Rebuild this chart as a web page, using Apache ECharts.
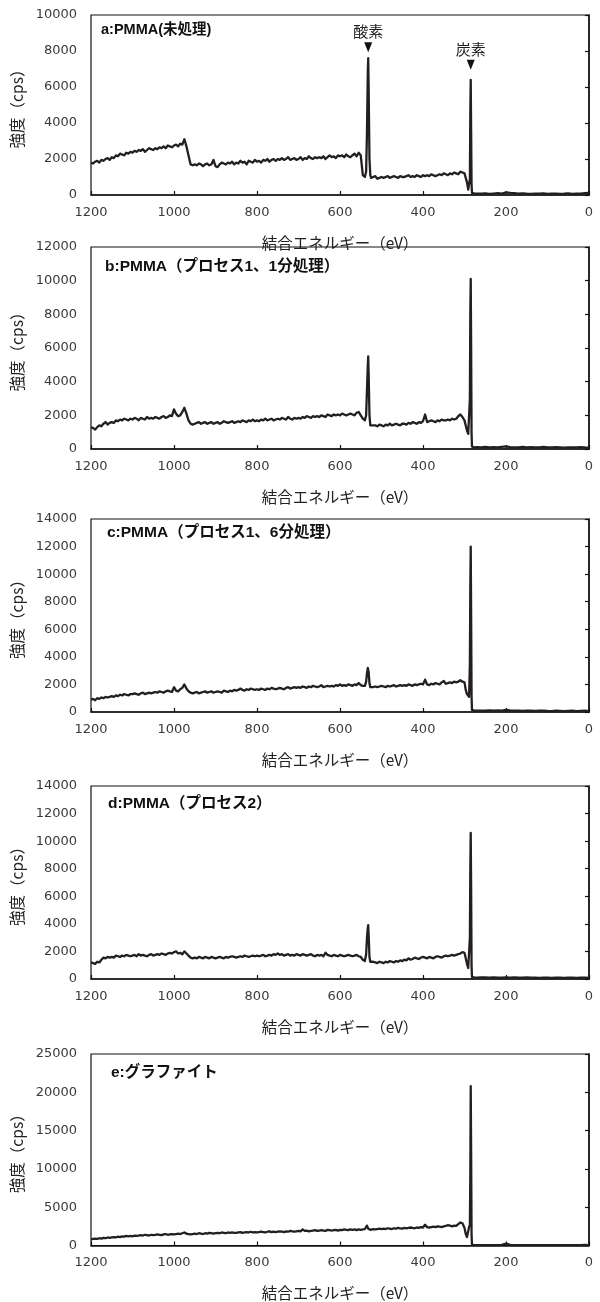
<!DOCTYPE html>
<html>
<head>
<meta charset="utf-8">
<script src="https://cdn.jsdelivr.net/npm/echarts@6/dist/echarts.min.js"></script>
<style>
html,body{margin:0;padding:0;background:#fff;}
#chart{width:600px;height:1302px;}
</style>
</head>
<body>
<div id="chart"></div>
<script>
// Binding energy grid (eV)
const energy = [
1200,1195,1190,1185,1180,1175,1170,1165,1160,1155,
1150,1145,1140,1135,1130,1125,1120,1115,1110,1105,
1100,1095,1090,1085,1080,1075,1070,1065,1060,1055,
1050,1045,1040,1035,1030,1025,1020,1015,1010,1005,
1000,995,990,985,980,975,970,965,960,955,
950,945,940,935,930,925,920,915,910,905,
900,895,890,885,880,875,870,865,860,855,
850,845,840,835,830,825,820,815,810,805,
800,795,790,785,780,775,770,765,760,755,
750,745,740,735,730,725,720,715,710,705,
700,695,690,685,680,675,670,665,660,655,
650,645,640,635,630,625,620,615,610,605,
600,595,590,585,580,575,570,565,560,555,
550,545,
540,537,535,533,532,531,529,527,525,520,
515,510,505,500,
495,490,485,480,475,470,465,460,455,450,
445,440,435,430,425,420,415,410,405,400,
395,390,385,380,375,370,365,360,355,350,
345,340,335,330,325,320,315,310,305,300,
297,294,291,289,287,286,285,284,283,282,281,279,277,275,270,
260,250,240,230,220,210,200,190,180,170,160,150,140,130,120,110,100,90,80,70,60,50,40,30,20,10,0
];

// a: PMMA (untreated)
const seriesA = [
1800,1750,1850,1900,1800,1950,1900,2000,2050,1950,
2100,2050,2200,2150,2300,2250,2200,2350,2300,2400,
2350,2450,2400,2500,2450,2550,2400,2500,2600,2550,
2500,2600,2550,2650,2600,2700,2600,2750,2700,2650,
2750,2800,2700,2850,2800,3100,2700,2200,1700,1650,
1700,1650,1750,1700,1600,1700,1750,1650,1700,1950,
1600,1550,1700,1800,1750,1700,1800,1750,1850,1700,
1800,1750,1900,1800,1850,1700,1900,1850,1800,1950,
1850,1900,1800,1950,1900,2000,1850,1950,2000,1900,
2000,1950,2050,1950,2000,2100,1950,2000,2050,1950,
2000,2100,1950,2050,2000,2150,2050,2000,2100,2050,
2100,2050,2150,2000,2100,2200,2100,2150,2050,2200,
2150,2200,2100,2250,2150,2100,2200,2300,2150,2350,
2200,1100,
1000,1300,3500,6800,7600,6000,2000,1100,950,1000,
1050,900,950,1000,
950,1000,1050,950,1000,1050,1000,950,1050,1000,
1000,1050,1100,1000,1050,1000,1100,1050,1000,1100,
1050,1100,1050,1150,1100,1050,1100,1150,1100,1200,
1150,1100,1200,1150,1250,1200,1150,1300,1250,1200,
1100,700,300,200,900,4500,6400,3500,600,120,80,70,90,60,80,
70,90,60,80,100,80,150,120,100,80,90,70,60,80,70,90,60,70,80,60,70,90,60,70,80,100,120
];

// b: PMMA (process 1, 1 min)
const seriesB = [
1300,1250,1150,1300,1400,1350,1500,1600,1450,1550,
1600,1550,1700,1650,1750,1700,1800,1750,1700,1800,
1750,1850,1800,1700,1850,1800,1750,1900,1800,1850,
1800,1900,1850,1800,1900,1950,1850,1900,2000,1950,
2350,2100,1950,2000,2200,2450,2100,1700,1500,1450,
1500,1550,1600,1500,1550,1600,1500,1550,1600,1500,
1550,1600,1500,1550,1650,1600,1550,1600,1650,1550,
1600,1650,1600,1700,1650,1600,1700,1650,1750,1650,
1700,1650,1750,1700,1800,1700,1750,1800,1700,1750,
1800,1750,1850,1800,1750,1900,1800,1750,1850,1800,
1850,1800,1900,1850,1950,1900,1850,1950,1900,1950,
1900,2000,1950,1900,2050,2000,1950,2050,2000,2050,
2000,2100,2050,2000,2050,2100,2050,2000,2150,2200,
2000,1800,
1700,2000,3500,5000,5500,4500,2000,1400,1350,1400,
1400,1350,1450,1400,
1350,1450,1400,1500,1400,1450,1500,1450,1400,1500,
1500,1450,1550,1500,1600,1550,1500,1600,1550,1650,
2050,1600,1650,1700,1650,1600,1700,1650,1750,1700,
1700,1750,1700,1800,1750,1800,1950,2050,1900,1700,
1400,1100,900,800,3000,8000,10100,6000,1000,150,100,120,100,90,110,
100,120,90,110,100,130,150,110,100,90,120,100,110,90,100,120,100,90,110,100,80,100,90,100,110,90,80
];

// c: PMMA (process 1, 6 min)
const seriesC = [
900,950,850,1000,950,1050,1000,1100,1050,1100,
1150,1100,1200,1150,1250,1200,1300,1250,1200,1300,
1300,1350,1300,1250,1350,1400,1300,1350,1400,1350,
1400,1450,1400,1500,1450,1400,1500,1550,1500,1450,
1800,1550,1500,1650,1750,2000,1700,1500,1400,1350,
1400,1450,1350,1400,1450,1500,1400,1450,1500,1400,
1450,1500,1450,1400,1550,1500,1450,1550,1500,1600,
1550,1600,1700,1600,1550,1650,1600,1700,1650,1600,
1650,1600,1700,1650,1600,1700,1650,1750,1700,1650,
1700,1750,1700,1650,1750,1800,1700,1750,1800,1750,
1800,1750,1850,1800,1750,1850,1800,1900,1850,1800,
1850,1950,1800,1850,1900,1850,1900,1850,1950,1900,
2000,1900,1950,1900,2000,1950,1900,2000,1950,2100,
1950,1900,
1900,2200,2800,3200,3300,2900,2100,1800,1750,1800,
1850,1800,1850,1900,
1850,1800,1900,1850,1900,1950,1850,1900,1950,1900,
1950,1900,2000,1950,1900,2000,1950,2000,2050,2000,
2350,2000,1950,2050,2000,2100,2050,2000,2150,2250,
2050,2100,2150,2100,2200,2150,2200,2300,2200,2150,
1600,1300,1200,1100,3500,9000,12000,7000,1200,150,100,90,110,100,90,
100,90,110,100,120,100,150,110,90,100,80,90,100,80,90,100,80,70,90,80,70,80,90,70,80,90,70
];

// d: PMMA (process 2)
const seriesD = [
1200,1150,1100,1250,1200,1400,1550,1500,1600,1550,
1600,1550,1700,1650,1600,1700,1650,1750,1700,1650,
1700,1750,1650,1800,1700,1750,1700,1650,1750,1800,
1700,1750,1800,1750,1850,1800,1750,1850,1900,1850,
1950,2000,1850,1900,1800,2000,1850,1700,1550,1500,
1550,1500,1600,1550,1500,1600,1550,1500,1600,1550,
1500,1550,1600,1550,1500,1600,1550,1600,1650,1600,
1550,1600,1650,1600,1700,1650,1600,1650,1700,1650,
1700,1650,1700,1750,1650,1700,1750,1700,1800,1750,
1850,1750,1800,1700,1750,1800,1700,1750,1700,1800,
1750,1700,1800,1750,1700,1750,1800,1700,1650,1750,
1700,1750,1650,1900,1750,1700,1650,1750,1700,1650,
1750,1700,1650,1700,1750,1700,1650,1700,1750,1650,
1600,1400,
1300,1800,3000,3700,3900,3200,1600,1250,1200,1250,
1200,1150,1250,1200,
1150,1250,1200,1300,1250,1200,1300,1250,1350,1300,
1400,1350,1500,1400,1450,1550,1500,1450,1550,1600,
1550,1500,1600,1550,1500,1600,1650,1600,1550,1650,
1700,1650,1700,1750,1700,1750,1800,1850,1950,1900,
1500,1100,800,700,3000,8000,10600,6500,1000,150,120,100,110,120,100,
110,120,100,110,90,100,110,100,120,90,100,110,100,90,80,100,90,80,100,90,80,90,100,80,90,100,80
];

// e: graphite
const seriesE = [
800,850,900,850,950,900,1000,950,1050,1000,
1050,1100,1050,1150,1100,1200,1150,1250,1200,1250,
1200,1300,1250,1300,1350,1300,1400,1350,1300,1400,
1350,1400,1450,1400,1350,1450,1500,1400,1450,1500,
1450,1500,1550,1500,1600,1700,1550,1500,1450,1500,
1550,1500,1600,1550,1500,1600,1550,1650,1600,1550,
1600,1650,1600,1700,1650,1600,1700,1650,1700,1650,
1650,1700,1750,1650,1700,1750,1700,1800,1700,1750,
1700,1750,1800,1750,1700,1800,1850,1750,1800,1750,
1800,1850,1800,1750,1850,1800,1900,1850,1800,1850,
1900,1850,2100,1900,1950,1850,1900,1950,2000,1900,
1950,2000,1950,1900,2050,2000,1950,2000,2050,1950,
2050,2000,2100,2050,2000,2100,2050,2100,2000,2100,
2050,2100,
2150,2300,2600,2400,2200,2100,2100,2050,2100,2150,
2100,2150,2200,2150,
2200,2150,2250,2200,2150,2250,2200,2300,2250,2200,
2300,2250,2300,2350,2300,2250,2350,2300,2400,2350,
2700,2400,2350,2400,2450,2400,2500,2450,2400,2500,
2550,2650,2600,2500,2600,2550,2800,3000,2900,2300,
1500,1100,1000,2400,2700,9000,20800,12000,1500,100,60,50,60,50,60,
50,60,50,40,60,70,250,70,50,60,40,50,60,50,40,50,60,50,40,50,60,40,50,60,50,70,60
];

const panelTitles = ['a:PMMA(未処理)', 'b:PMMA（プロセス1、1分処理）', 'c:PMMA（プロセス1、6分処理）', 'd:PMMA（プロセス2）', 'e:グラファイト'];
const yMax = [10000, 12000, 14000, 14000, 25000];
const yStep = [2000, 2000, 2000, 2000, 5000];
const xName = '結合エネルギー（eV）';
const yName = '強度（cps）';
const peakLabels = ['酸素', '炭素'];
const peakEnergies = [532, 285];

const allSeries = [seriesA, seriesB, seriesC, seriesD, seriesE];

// layout
const gridTops = [15, 247, 519, 786, 1054];
const gridHeights = [180, 202, 193, 193, 194];
const titleTops = [23, 259, 525, 796, 1065];
const titleLefts = [101, 105, 107, 108, 111];
const titleSizes = [14.5, 15.5, 15.5, 15.5, 15.5];
const peakArrowOffsets = [-11, -15];

const numFont = 'DejaVu Sans';
const jpFont = 'Noto Sans CJK JP';
const lineColor = '#231f20';

const grids = [], xAxes = [], yAxes = [], series = [], titles = [];
for (let i = 0; i < 5; i++) {
  grids.push({left: 91, right: 11, top: gridTops[i], height: gridHeights[i],
    show: true, borderColor: '#111', borderWidth: 1.2, backgroundColor: 'transparent', containLabel: false});
  xAxes.push({
    type: 'value', gridIndex: i, min: 0, max: 1200, interval: 200, inverse: true,
    name: xName, nameLocation: 'middle', nameGap: 40,
    nameTextStyle: {fontFamily: jpFont, fontSize: 15.5, color: '#222'},
    axisLine: {show: true, onZero: false, lineStyle: {color: '#111', width: 1.5}},
    axisTick: {show: true, inside: true, length: 4, lineStyle: {color: '#111', width: 1.2}},
    axisLabel: {fontFamily: numFont, fontSize: 13, color: '#3a3a3a', margin: 11, formatter: v => String(v)},
    splitLine: {show: false}
  });
  yAxes.push({
    type: 'value', gridIndex: i, min: 0, max: yMax[i], interval: yStep[i],
    name: yName, nameLocation: 'middle', nameGap: 51, nameRotate: 90,
    nameTextStyle: {fontFamily: jpFont, fontSize: 15.5, color: '#222'},
    axisLine: {show: true, lineStyle: {color: '#111', width: 1.5}},
    axisTick: {show: true, inside: false, length: 4, lineStyle: {color: '#111', width: 1.2}},
    axisLabel: {fontFamily: numFont, fontSize: 13, color: '#3a3a3a', margin: 14, formatter: v => String(v)},
    splitLine: {show: false}
  });
  const pts = energy.map((e, k) => [e, allSeries[i][k]]);
  const s = {
    type: 'line', xAxisIndex: i, yAxisIndex: i, data: pts,
    showSymbol: false, symbol: 'none', sampling: null, animation: false,
    lineStyle: {color: lineColor, width: 2.3, join: 'round'},
    silent: true
  };
  if (i === 0) {
    s.markPoint = {
      symbol: 'path://M0,0 L10,0 L5,12 Z',
      symbolSize: [8, 10],
      itemStyle: {color: '#111'},
      label: {show: true, position: 'top', distance: 3, color: '#222', fontFamily: jpFont, fontSize: 15},
      data: peakEnergies.map((pe, j) => {
        const k = energy.indexOf(pe);
        return {coord: [pe, seriesA[k]], value: peakLabels[j], symbolOffset: [0, peakArrowOffsets[j]],
          label: {formatter: peakLabels[j]}};
      })
    };
  }
  series.push(s);
  titles.push({
    text: panelTitles[i], left: titleLefts[i], top: titleTops[i], padding: 0,
    textStyle: {fontFamily: 'Liberation Sans, ' + jpFont, fontSize: titleSizes[i], fontWeight: 'bold', color: '#111'}
  });
}

const chart = echarts.init(document.getElementById('chart'), null, {renderer: 'canvas'});
chart.setOption({
  animation: false,
  backgroundColor: '#fff',
  title: titles,
  grid: grids,
  xAxis: xAxes,
  yAxis: yAxes,
  series: series
});
</script>
</body>
</html>
